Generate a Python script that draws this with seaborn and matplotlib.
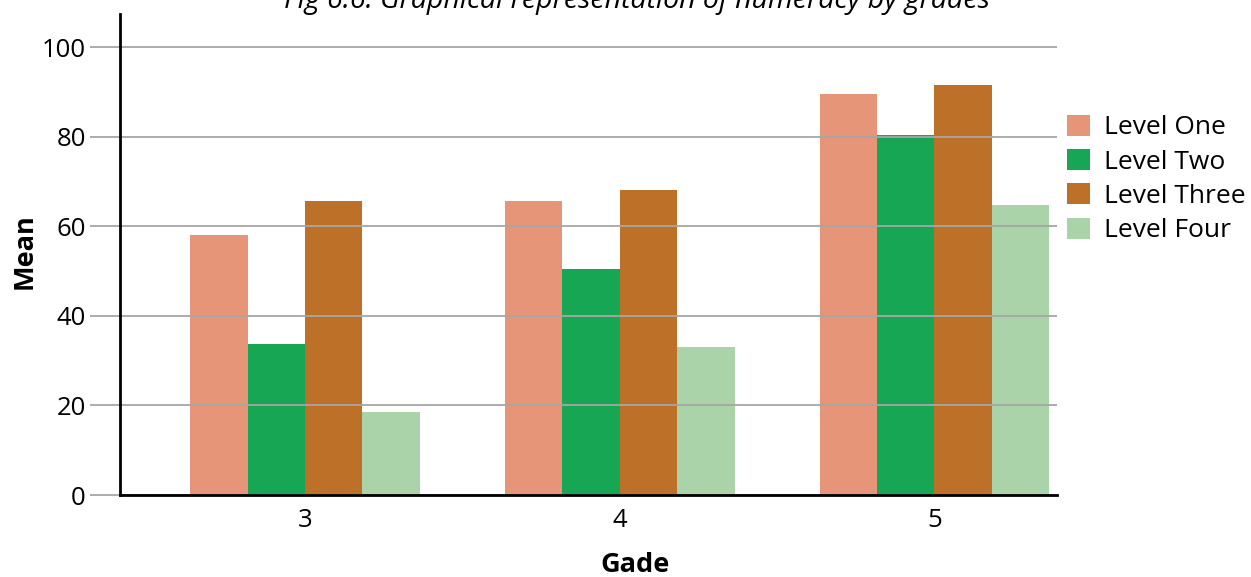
import matplotlib
matplotlib.use("Agg")
import matplotlib.pyplot as plt
import seaborn as sns
import pandas as pd

grades = ["3", "4", "5"]
levels = ["Level One", "Level Two", "Level Three", "Level Four"]
level_one = [58.0, 65.6, 89.5]
level_two = [33.7, 50.4, 80.4]
level_three = [65.6, 68.1, 91.5]
level_four = [18.5, 33.0, 64.7]
colors = ["#E79579", "#17A653", "#BD7128", "#ABD3AA"]

rows = []
for lvl, vals in zip(levels, [level_one, level_two, level_three, level_four]):
    for g, v in zip(grades, vals):
        rows.append({"Grade": g, "Level": lvl, "Mean": v})
df = pd.DataFrame(rows)

sns.set_theme(style="white")
plt.rcParams["font.family"] = ["Open Sans", "DejaVu Sans"]
plt.rcParams["text.color"] = "black"
plt.rcParams["axes.labelcolor"] = "black"
plt.rcParams["xtick.color"] = "black"
plt.rcParams["ytick.color"] = "black"

fig = plt.figure(figsize=(12.51, 5.77), dpi=100)
ax = fig.add_axes([0.0959, 0.142, 0.845 - 0.0959, 0.834])

sns.barplot(data=df, x="Grade", y="Mean", hue="Level", order=grades,
            hue_order=levels, palette=colors, width=0.73, saturation=1,
            linewidth=0, ax=ax)

ax.set_xlim(-0.588, 2.39)
ax.set_ylim(0, 107.4)
ax.set_yticks([0, 20, 40, 60, 80, 100])
ax.yaxis.grid(True, color="#a6a6a6", linewidth=1.3)
ax.set_axisbelow(False)
for b in ax.patches:
    b.set_zorder(2)
for gl in ax.get_ygridlines():
    gl.set_zorder(2.5)

for s in ["top", "right"]:
    ax.spines[s].set_visible(False)
for s in ["left", "bottom"]:
    ax.spines[s].set_color("black")
    ax.spines[s].set_linewidth(2)
    ax.spines[s].set_zorder(5)

ax.tick_params(axis="y", length=21.6, width=1.3, color="#a6a6a6",
               labelcolor="black", labelsize=18.5, pad=3, left=True)
ax.tick_params(axis="x", length=0, labelsize=18.5, pad=9, labelcolor="black")

ax.set_xlabel("")
ax.set_ylabel("")
fig.text(635 / 1251, 1 - 565 / 577, "Gade", ha="center", va="center",
         fontsize=19.5, fontweight="bold")
fig.text(25 / 1251, 1 - 251 / 577, "Mean", ha="center", va="center",
         rotation=90, fontsize=19.5, fontweight="bold")

leg = ax.legend(loc="center left", bbox_to_anchor=(1.0107, 0.657), frameon=False,
                fontsize=19, handlelength=0.85, handleheight=0.85,
                handletextpad=0.55, labelspacing=0.33, borderaxespad=0,
                borderpad=0)

fig.text(0.509, 0.998, "Fig 6.6: Graphical representation of numeracy by grades",
         ha="center", va="center", fontsize=20.5, style="italic")

fig.savefig("out.png", dpi=100)
